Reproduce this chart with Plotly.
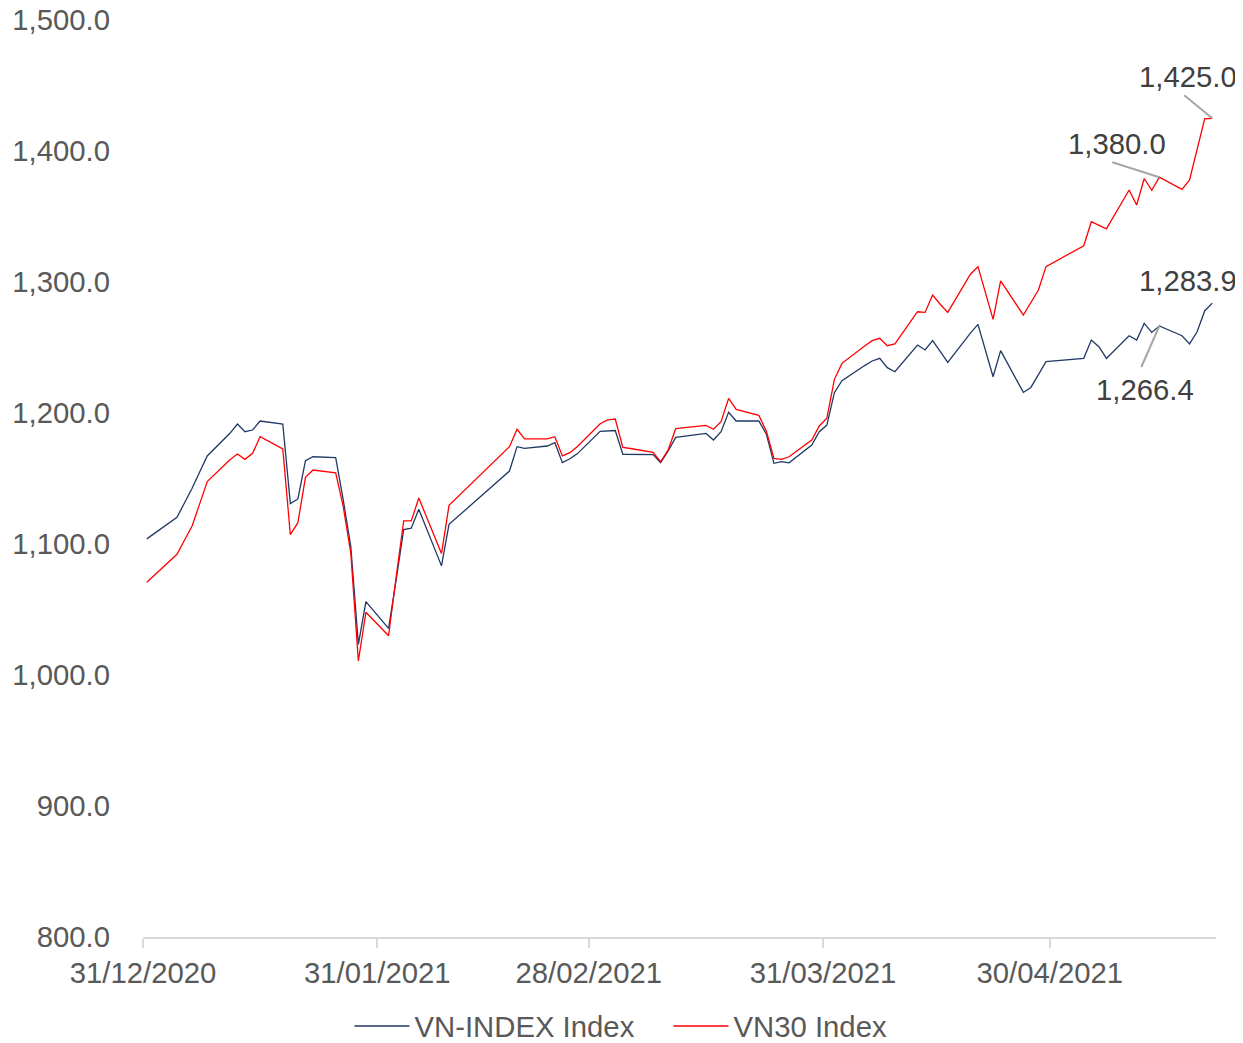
import plotly.graph_objects as go

dates = [
    "2020-12-31",
    "2021-01-04", "2021-01-05", "2021-01-06", "2021-01-07", "2021-01-08",
    "2021-01-11", "2021-01-12", "2021-01-13", "2021-01-14", "2021-01-15",
    "2021-01-18", "2021-01-19", "2021-01-20", "2021-01-21", "2021-01-22",
    "2021-01-25", "2021-01-26", "2021-01-27", "2021-01-28", "2021-01-29",
    "2021-02-01", "2021-02-02", "2021-02-03", "2021-02-04", "2021-02-05",
    "2021-02-08", "2021-02-09",
    "2021-02-17", "2021-02-18", "2021-02-19",
    "2021-02-22", "2021-02-23", "2021-02-24", "2021-02-25", "2021-02-26",
    "2021-03-01", "2021-03-02", "2021-03-03", "2021-03-04", "2021-03-05",
    "2021-03-08", "2021-03-09", "2021-03-10", "2021-03-11", "2021-03-12",
    "2021-03-15", "2021-03-16", "2021-03-17", "2021-03-18", "2021-03-19",
    "2021-03-22", "2021-03-23", "2021-03-24", "2021-03-25", "2021-03-26",
    "2021-03-29", "2021-03-30", "2021-03-31", "2021-04-01", "2021-04-02",
    "2021-04-05", "2021-04-06", "2021-04-07", "2021-04-08", "2021-04-09",
    "2021-04-12", "2021-04-13", "2021-04-14", "2021-04-15", "2021-04-16",
    "2021-04-19", "2021-04-20", "2021-04-22", "2021-04-23",
    "2021-04-26", "2021-04-27", "2021-04-28", "2021-04-29",
    "2021-05-04", "2021-05-05", "2021-05-06", "2021-05-07",
    "2021-05-10", "2021-05-11", "2021-05-12", "2021-05-13", "2021-05-14",
    "2021-05-17", "2021-05-18", "2021-05-19", "2021-05-20", "2021-05-21",
]

vnindex = [
    1103.9,
    1120.4, 1131.5, 1142.5, 1155.0, 1167.2,
    1184.5, 1191.6, 1185.7, 1187.0, 1193.9,
    1191.6, 1130.8, 1134.4, 1163.6, 1166.6,
    1165.9, 1133.6, 1098.0, 1023.4, 1056.0,
    1035.6, 1072.5, 1111.0, 1112.1, 1126.5,
    1083.3, 1115.0,
    1155.7, 1174.3, 1173.0,
    1174.8, 1177.3, 1162.1, 1165.1, 1169.0,
    1186.0, 1186.2, 1186.6, 1168.5, 1168.4,
    1168.2, 1162.1, 1171.0, 1181.4, 1182.1,
    1184.4, 1179.4, 1185.7, 1200.5, 1193.9,
    1194.0, 1183.8, 1161.6, 1162.8, 1162.0,
    1175.6, 1185.7, 1190.8, 1215.5, 1224.7,
    1236.2, 1239.7, 1241.7, 1234.6, 1231.5,
    1251.9, 1248.1, 1255.2, 1247.0, 1238.7,
    1261.0, 1267.7, 1227.7, 1247.6,
    1215.7, 1219.5, 1229.3, 1239.2,
    1241.7, 1255.7, 1250.6, 1241.7,
    1259.0, 1255.7, 1268.4, 1261.5, 1266.4,
    1259.0, 1252.7, 1262.0, 1277.9, 1283.9,
]

vn30 = [
    1070.8,
    1092.1, 1103.0, 1113.7, 1130.6, 1147.6,
    1164.3, 1168.7, 1164.6, 1169.2, 1181.9,
    1172.5, 1107.1, 1116.3, 1150.9, 1156.5,
    1154.4, 1128.5, 1093.0, 1010.7, 1047.9,
    1030.0, 1074.8, 1117.6, 1117.6, 1135.1,
    1092.7, 1129.5,
    1174.3, 1187.6, 1180.2,
    1180.2, 1181.9, 1167.2, 1169.7, 1174.5,
    1191.8, 1194.7, 1195.4, 1173.8, 1172.9,
    1170.0, 1162.8, 1171.8, 1188.0, 1188.7,
    1190.6, 1187.6, 1193.4, 1211.2, 1202.8,
    1198.2, 1186.1, 1165.4, 1164.6, 1166.6,
    1179.4, 1190.1, 1196.0, 1225.7, 1237.9,
    1251.1, 1255.2, 1257.0, 1251.4, 1252.7,
    1277.3, 1276.8, 1290.0, 1283.0, 1276.8,
    1305.9, 1311.7, 1271.5, 1300.8,
    1274.8, 1284.2, 1293.9, 1311.7,
    1327.7, 1346.0, 1343.3, 1340.5,
    1370.2, 1358.8, 1379.0, 1370.0, 1380.0,
    1370.7, 1377.9, 1402.0, 1424.5, 1425.0,
]

tick_positions = ["2020-12-30 12:00", "2021-01-30 12:00", "2021-02-27 12:00",
                  "2021-03-30 12:00", "2021-04-29 12:00"]
tick_labels = ["31/12/2020", "31/01/2021", "28/02/2021", "31/03/2021", "30/04/2021"]

FONT = "Arial, Liberation Sans, sans-serif"
FS = 29.3
AXIS_GREY = "#595959"
LABEL_GREY = "#404040"
LEADER = "#a6a6a6"

fig = go.Figure()
fig.add_trace(go.Scatter(x=dates, y=vnindex, mode="lines", name="VN-INDEX Index",
                         line=dict(color="#203864", width=1.3)))
fig.add_trace(go.Scatter(x=dates, y=vn30, mode="lines", name="VN30 Index",
                         line=dict(color="#ff0000", width=1.3)))

i_mid = dates.index("2021-05-14")
i_end = len(dates) - 1

labels = [
    (dates[i_end], vn30[i_end], -24, 42),
    (dates[i_mid], vn30[i_mid], -42, 34),
    (dates[i_end], vnindex[i_end], -24, 23),
    (dates[i_mid], vnindex[i_mid], -14, -63),
]
for x, y, dx, dy in labels:
    fig.add_annotation(x=x, y=y, text=f"{y:,.1f}", showarrow=False,
                       xshift=dx, yshift=dy,
                       font=dict(family=FONT, size=FS, color=LABEL_GREY))

leaders = [
    (dates[i_end], vn30[i_end], -28, 23),
    (dates[i_mid], vn30[i_mid], -47, 15),
    (dates[i_mid], vnindex[i_mid], -18, -41),
]
for x, y, dx, dy in leaders:
    fig.add_shape(type="line", xref="x", yref="y",
                  xsizemode="pixel", ysizemode="pixel",
                  xanchor=x, yanchor=y, x0=0, y0=0, x1=dx, y1=dy,
                  line=dict(color=LEADER, width=2))

fig.update_layout(
    width=1235, height=1035,
    margin=dict(l=135, r=27, t=12, b=106, autoexpand=False),
    paper_bgcolor="white", plot_bgcolor="white",
    font=dict(family=FONT, size=FS, color=AXIS_GREY),
    showlegend=True,
    legend=dict(orientation="h", xref="container", yref="container",
                x=0.5348, xanchor="center", y=0.016, yanchor="middle",
                font=dict(family=FONT, size=FS, color=AXIS_GREY),
                itemwidth=55, tracegroupgap=0, entrywidth=249),
)
fig.update_xaxes(
    type="date", automargin=False,
    range=["2020-12-30 12:00", "2021-05-21 12:00"],
    tickmode="array", tickvals=tick_positions, ticktext=tick_labels,
    showgrid=False, zeroline=False,
    showline=True, linecolor="#d9d9d9", linewidth=1.5,
    ticks="outside", ticklen=9, tickcolor="#d9d9d9", tickwidth=1.5,
    tickfont=dict(family=FONT, size=FS, color=AXIS_GREY),
)
fig.update_yaxes(
    range=[800, 1500], dtick=100, tick0=800, tickformat=",.1f", automargin=False,
    showgrid=False, zeroline=False, showline=False,
    ticks="", ticklabelstandoff=32, ticklabeloverflow="allow",
    tickfont=dict(family=FONT, size=FS, color=AXIS_GREY),
)

fig.write_html("out.html")
